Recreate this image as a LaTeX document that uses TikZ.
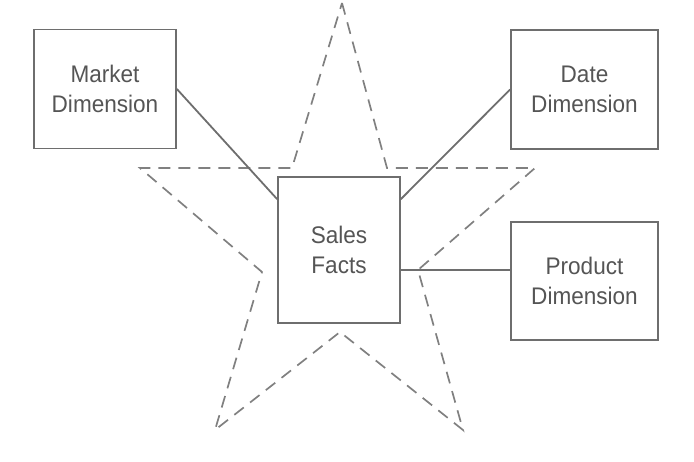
\documentclass[tikz,border=0pt]{standalone}
\usepackage{fontspec}
\setmainfont{Liberation Sans}
\newfontfamily\narrowsans[FakeStretch=0.94]{Liberation Sans}
\usepackage{tikz}
\usepackage{xcolor}
\definecolor{boxline}{HTML}{6E6E6E}
\definecolor{starline}{HTML}{808080}
\definecolor{boxtext}{HTML}{555555}
\tikzset{
  dimbox/.style={
    draw=boxline, line width=1.7pt, fill=white, inner sep=0pt,
    align=center, text=boxtext,
    font=\narrowsans\fontsize{24}{30}\selectfont
  },
  starline/.style={draw=starline, line width=1.7pt, dash pattern=on 12pt off 8pt},
  link/.style={draw=boxline, line width=1.8pt}
}
\begin{document}
\begin{tikzpicture}[x=1pt,y=-1pt]
    \useasboundingbox (0,0) rectangle (694,462);
    \draw[starline] (342,3) -- (387,168) -- (535,168) -- (418,270) -- (463,430)
      -- (340,332) -- (215,430) -- (262,272) -- (140,168) -- (292,168) -- cycle;
    \node[dimbox, minimum width=142pt, minimum height=119pt] (market) at (105,89) {Market\\Dimension};
    \node[dimbox, minimum width=147pt, minimum height=119pt] (date) at (584.5,89.5) {Date\\Dimension};
    \node[dimbox, minimum width=122pt, minimum height=146pt] (sales) at (339,250) {Sales\\Facts};
    \node[dimbox, minimum width=147pt, minimum height=118pt] (product) at (584.5,281) {Product\\Dimension};
    \coordinate (prodin) at ([yshift=11pt]product.west);
    \draw[link] (market.east) -- ([yshift=-23pt]sales.north west);
    \draw[link] (date.west) -- ([yshift=-23pt]sales.north east);
    \draw[link] (sales.east |- prodin) -- (prodin);
  \end{tikzpicture}
\end{document}
